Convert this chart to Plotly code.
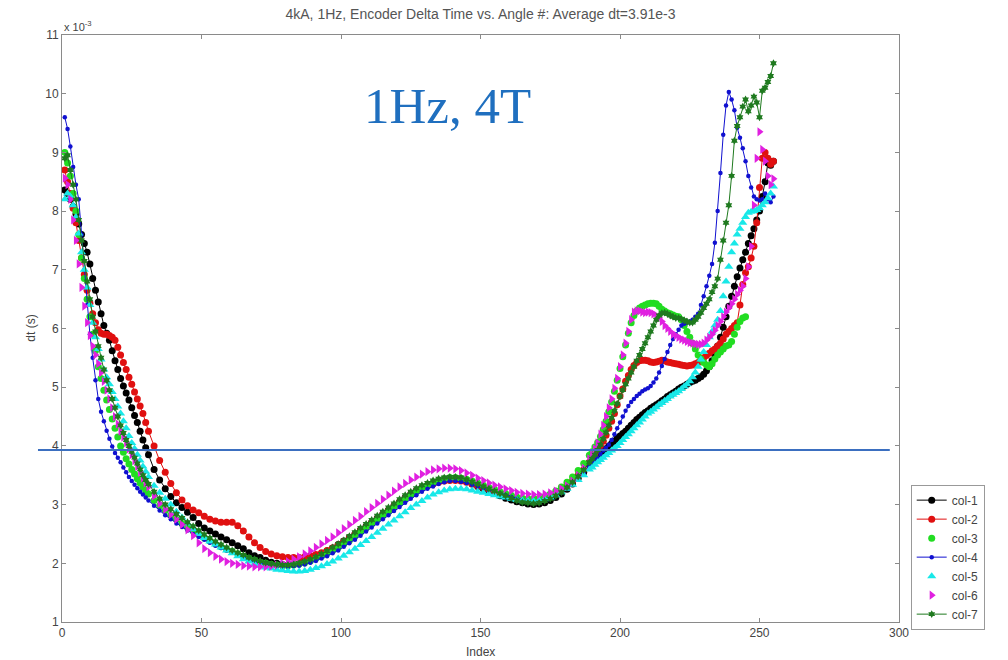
import plotly.graph_objects as go

# x index: 1..30 every point, 31..189 every other point, 190..255 every point
idx_early = list(range(1, 31))
idx_mid = list(range(31, 190, 2))
idx_late = list(range(190, 256))
idx_all = idx_early + idx_mid + idx_late
idx_col3 = idx_early + idx_mid + list(range(190, 246))

col1 = [8.36, 8.3, 8.2, 8.08, 7.95, 7.78, 7.6, 7.45, 7.3, 7.1, 6.85, 6.65, 6.45, 6.25, 6.05, 5.92, 5.8, 5.62, 5.45, 5.3,
        5.15, 5.02, 4.9, 4.78, 4.65, 4.52, 4.4, 4.25, 4.1, 3.97,
        3.85, 3.6, 3.42, 3.27, 3.14, 3.03, 2.95, 2.87, 2.78, 2.68,
        2.6, 2.55, 2.5, 2.45, 2.4, 2.35, 2.3, 2.25, 2.18, 2.13,
        2.1, 2.05, 2.02, 2.0, 1.98, 1.97, 1.98, 2.0, 2.03, 2.07,
        2.11, 2.16, 2.21, 2.26, 2.32, 2.38, 2.44, 2.5, 2.57, 2.63,
        2.7, 2.77, 2.84, 2.91, 2.98, 3.05, 3.12, 3.18, 3.24, 3.29,
        3.33, 3.37, 3.4, 3.42, 3.43, 3.43, 3.42, 3.39, 3.35, 3.31,
        3.27, 3.23, 3.19, 3.15, 3.11, 3.08, 3.05, 3.03, 3.01, 3.0,
        3.01, 3.03, 3.07, 3.12, 3.18, 3.26, 3.35, 3.45, 3.55, 3.66,
        3.7, 3.75, 3.8, 3.85, 3.9, 3.95, 4.0, 4.04, 4.08, 4.13,
        4.17, 4.21, 4.25, 4.3, 4.35, 4.4, 4.45, 4.49, 4.53, 4.57,
        4.6, 4.64, 4.67, 4.7, 4.73, 4.77, 4.8, 4.84, 4.87, 4.9,
        4.93, 4.97, 5.0, 5.02, 5.05, 5.08, 5.1, 5.12, 5.15, 5.18,
        5.22, 5.28, 5.35, 5.45, 5.55, 5.7, 5.85, 6.02, 6.2, 6.38,
        6.55, 6.72, 6.88, 7.03, 7.17, 7.3, 7.45, 7.58, 7.7, 7.85,
        8.0, 8.25, 8.5, 8.82, 8.78, 8.85]

col2 = [8.7, 8.5, 8.3, 8.05, 7.8, 7.5, 7.2, 6.92, 6.65, 6.43, 6.25, 6.1, 5.98, 5.92, 5.9, 5.9, 5.88, 5.85, 5.8, 5.68,
        5.55, 5.42, 5.3, 5.17, 5.05, 4.92, 4.8, 4.68, 4.55, 4.4,
        4.25, 4.0, 3.75, 3.55, 3.36, 3.2, 3.08, 2.98, 2.91, 2.86,
        2.8, 2.75, 2.72, 2.7, 2.7, 2.7, 2.64, 2.55, 2.45, 2.35,
        2.27, 2.2, 2.16, 2.13, 2.11, 2.1, 2.1, 2.1, 2.11, 2.13,
        2.15, 2.18, 2.22, 2.26, 2.31, 2.37, 2.43, 2.49, 2.56, 2.62,
        2.69, 2.76, 2.83, 2.9, 2.97, 3.04, 3.11, 3.17, 3.23, 3.28,
        3.32, 3.35, 3.38, 3.4, 3.41, 3.41, 3.4, 3.38, 3.35, 3.32,
        3.29, 3.26, 3.23, 3.2, 3.17, 3.14, 3.11, 3.09, 3.08, 3.08,
        3.09, 3.11, 3.15, 3.2, 3.26, 3.33, 3.41, 3.5, 3.6, 3.72,
        3.78, 3.85, 3.92, 4.0, 4.08, 4.18, 4.3, 4.42, 4.55, 4.7,
        4.85, 4.97, 5.1, 5.2, 5.3, 5.37, 5.42, 5.45, 5.46, 5.46,
        5.45, 5.43, 5.42, 5.43, 5.44, 5.46, 5.45, 5.43, 5.42, 5.41,
        5.4, 5.39, 5.38, 5.37, 5.36, 5.37, 5.38, 5.4, 5.42, 5.46,
        5.5, 5.54, 5.58, 5.62, 5.65, 5.7, 5.75, 5.82, 5.9, 5.95,
        6.0, 6.05, 6.1, 6.4, 6.75, 6.95, 7.05, 7.2, 7.4, 7.8,
        8.4, 8.9, 9.0, 8.9, 8.8, 8.85]

col3 = [9.0, 8.82, 8.6, 8.3, 8.0, 7.6, 7.2, 6.85, 6.5, 6.2, 5.9, 5.62, 5.35, 5.15, 4.95, 4.78, 4.62, 4.46, 4.3, 4.15,
        4.0, 3.89, 3.78, 3.69, 3.6, 3.52, 3.44, 3.37, 3.3, 3.24,
        3.18, 3.07, 2.98, 2.9, 2.82, 2.75, 2.68, 2.61, 2.55, 2.49,
        2.43, 2.38, 2.33, 2.28, 2.24, 2.2, 2.16, 2.12, 2.08, 2.05,
        2.02, 2.0, 1.98, 1.97, 1.96, 1.96, 1.97, 1.99, 2.01, 2.04,
        2.08, 2.12, 2.17, 2.22, 2.27, 2.33, 2.39, 2.46, 2.53, 2.6,
        2.67, 2.74, 2.81, 2.88, 2.95, 3.02, 3.09, 3.16, 3.22, 3.28,
        3.33, 3.37, 3.41, 3.44, 3.46, 3.46, 3.45, 3.43, 3.4, 3.37,
        3.33, 3.29, 3.26, 3.22, 3.19, 3.16, 3.13, 3.11, 3.1, 3.1,
        3.11, 3.14, 3.18, 3.23, 3.3, 3.38, 3.47, 3.58, 3.7, 3.84,
        3.9, 3.98, 4.06, 4.16, 4.28, 4.42, 4.58, 4.75, 4.93, 5.12,
        5.32, 5.52, 5.72, 5.92, 6.1, 6.22, 6.3, 6.35, 6.38, 6.4,
        6.42, 6.43, 6.43, 6.42, 6.38, 6.33, 6.3, 6.27, 6.25, 6.23,
        6.21, 6.2, 6.15, 6.05, 5.95, 5.85, 5.75, 5.65, 5.55, 5.48,
        5.42, 5.38, 5.35, 5.4, 5.48, 5.55, 5.6, 5.65, 5.7, 5.72,
        5.78, 5.9, 6.02, 6.12, 6.18, 6.2]

col4 = [9.6, 9.4, 9.1, 8.75, 8.45, 8.2, 7.6, 7.0, 6.4, 5.9, 5.5, 5.12, 4.8, 4.58, 4.42, 4.26, 4.12, 3.99, 3.88, 3.8,
        3.72, 3.63, 3.55, 3.47, 3.4, 3.34, 3.28, 3.22, 3.17, 3.12,
        3.07, 2.98, 2.9, 2.82, 2.75, 2.68, 2.62, 2.56, 2.5, 2.45,
        2.4, 2.35, 2.3, 2.26, 2.22, 2.18, 2.14, 2.1, 2.06, 2.03,
        2.0, 1.98, 1.96, 1.95, 1.94, 1.94, 1.95, 1.96, 1.98, 2.01,
        2.04, 2.08, 2.12, 2.17, 2.22, 2.28, 2.34, 2.4, 2.47, 2.54,
        2.61, 2.68, 2.75, 2.82, 2.89, 2.96, 3.03, 3.1, 3.16, 3.22,
        3.27, 3.31, 3.35, 3.38, 3.4, 3.4, 3.39, 3.37, 3.34, 3.31,
        3.28, 3.25, 3.22, 3.19, 3.16, 3.13, 3.1, 3.08, 3.06, 3.06,
        3.07, 3.09, 3.12, 3.16, 3.21, 3.27, 3.35, 3.44, 3.54, 3.65,
        3.7, 3.75, 3.8, 3.86, 3.92, 3.97, 4.02, 4.1, 4.2, 4.3,
        4.4, 4.5, 4.6, 4.68, 4.75, 4.8, 4.85, 4.89, 4.93, 4.96,
        4.98, 5.02, 5.08, 5.15, 5.25, 5.36, 5.48, 5.6, 5.72, 5.82,
        5.9, 5.98, 6.05, 6.08, 6.1, 6.12, 6.15, 6.2, 6.25, 6.4,
        6.55, 6.72, 6.9, 7.1, 7.46, 8.0, 8.65, 9.3, 9.8, 10.03,
        9.9, 9.72, 9.42, 9.25, 9.07, 8.85, 8.6, 8.4, 8.25, 8.2,
        8.18, 8.2, 8.3, 8.2, 8.15, 8.25]

col5 = [8.2, 8.3, 8.25, 8.1, 7.9, 7.62, 7.3, 7.0, 6.7, 6.4, 6.1, 5.85, 5.65, 5.47, 5.3, 5.17, 5.05, 4.92, 4.8, 4.67,
        4.55, 4.42, 4.3, 4.17, 4.05, 3.95, 3.85, 3.75, 3.65, 3.56,
        3.47, 3.32, 3.2, 3.1, 3.0, 2.88, 2.78, 2.68, 2.58, 2.5,
        2.43, 2.37, 2.32, 2.27, 2.22, 2.17, 2.12, 2.07, 2.03, 1.99,
        1.96, 1.93, 1.91, 1.89, 1.88, 1.87, 1.86, 1.86, 1.87, 1.89,
        1.92, 1.95, 1.99, 2.03, 2.08, 2.13, 2.19, 2.25, 2.31, 2.38,
        2.45, 2.52, 2.59, 2.66, 2.73, 2.8, 2.87, 2.94, 3.0, 3.06,
        3.12, 3.17, 3.21, 3.24, 3.26, 3.27, 3.27, 3.26, 3.24, 3.22,
        3.2, 3.18, 3.16, 3.14, 3.12, 3.1, 3.08, 3.07, 3.06, 3.06,
        3.07, 3.09, 3.12, 3.16, 3.21, 3.27, 3.34, 3.42, 3.5, 3.6,
        3.63, 3.68, 3.72, 3.76, 3.8, 3.84, 3.88, 3.92, 3.96, 4.0,
        4.05, 4.1, 4.15, 4.2, 4.25, 4.3, 4.35, 4.4, 4.45, 4.5,
        4.55, 4.58, 4.62, 4.66, 4.7, 4.73, 4.77, 4.8, 4.84, 4.87,
        4.9, 4.93, 4.97, 5.01, 5.05, 5.1, 5.17, 5.25, 5.35, 5.47,
        5.6, 5.72, 5.85, 5.95, 6.05, 6.15, 6.3, 6.55, 6.8, 7.05,
        7.3, 7.45, 7.6, 7.7, 7.8, 7.9, 7.97, 7.99, 8.0, 8.02,
        8.05, 8.1, 8.15, 8.22, 8.3, 8.42]

col6 = [8.56, 8.45, 8.2, 7.85, 7.5, 7.1, 6.7, 6.38, 6.1, 5.88, 5.7, 5.55, 5.4, 5.25, 5.1, 4.95, 4.8, 4.65, 4.5, 4.37,
        4.25, 4.15, 4.05, 3.95, 3.85, 3.75, 3.65, 3.55, 3.45, 3.37,
        3.3, 3.15, 3.02, 2.92, 2.83, 2.75, 2.66, 2.57, 2.47, 2.35,
        2.25, 2.18, 2.12, 2.07, 2.03, 2.0, 1.98, 1.96, 1.95, 1.94,
        1.94, 1.94, 1.95, 1.97, 2.0, 2.03, 2.07, 2.11, 2.16, 2.21,
        2.27, 2.33, 2.39, 2.45, 2.52, 2.59, 2.66, 2.73, 2.8, 2.88,
        2.95, 3.02, 3.09, 3.16, 3.23, 3.3, 3.36, 3.42, 3.47, 3.52,
        3.56, 3.59, 3.61, 3.62, 3.62, 3.61, 3.58, 3.54, 3.5, 3.45,
        3.41, 3.37, 3.33, 3.3, 3.27, 3.24, 3.21, 3.19, 3.18, 3.17,
        3.17, 3.18, 3.2, 3.23, 3.27, 3.32, 3.4, 3.5, 3.62, 3.78,
        3.85, 3.95, 4.05, 4.2, 4.35, 4.5, 4.65, 4.8, 4.98, 5.15,
        5.35, 5.55, 5.75, 5.95, 6.15, 6.28, 6.3, 6.3, 6.28, 6.27,
        6.28, 6.27, 6.25, 6.22, 6.18, 6.12, 6.05, 6.0, 5.95, 5.9,
        5.88, 5.85, 5.82, 5.8, 5.78, 5.76, 5.75, 5.74, 5.73, 5.73,
        5.75, 5.8, 5.85, 5.9, 5.97, 6.05, 6.12, 6.2, 6.28, 6.35,
        6.42, 6.5, 6.58, 6.65, 6.72, 6.85, 7.05, 7.4, 8.1, 8.9,
        9.35, 9.05, 8.85, 8.6, 8.45, 8.55]

col7 = [8.9, 8.95, 8.7, 8.45, 8.2, 7.85, 7.5, 7.15, 6.8, 6.5, 6.2, 5.95, 5.7, 5.5, 5.3, 5.12, 4.95, 4.8, 4.65, 4.5,
        4.35, 4.22, 4.1, 4.0, 3.9, 3.8, 3.7, 3.6, 3.5, 3.42,
        3.35, 3.22, 3.1, 3.0, 2.92, 2.84, 2.77, 2.7, 2.63, 2.56,
        2.49, 2.43, 2.37, 2.32, 2.27, 2.22, 2.18, 2.14, 2.1, 2.07,
        2.04, 2.01, 1.99, 1.98, 1.97, 1.97, 1.98, 2.0, 2.03, 2.07,
        2.11, 2.16, 2.21, 2.27, 2.33, 2.39, 2.46, 2.53, 2.6, 2.67,
        2.74, 2.81, 2.88, 2.95, 3.02, 3.09, 3.16, 3.22, 3.28, 3.33,
        3.37, 3.41, 3.44, 3.46, 3.47, 3.47, 3.46, 3.43, 3.39, 3.35,
        3.31, 3.27, 3.23, 3.19, 3.15, 3.11, 3.07, 3.04, 3.03, 3.02,
        3.03, 3.06, 3.1, 3.15, 3.21, 3.29, 3.38, 3.48, 3.59, 3.72,
        3.78, 3.85, 3.93, 4.02, 4.12, 4.23, 4.35, 4.48, 4.6, 4.72,
        4.84, 4.95, 5.05, 5.15, 5.25, 5.35, 5.45, 5.55, 5.65, 5.75,
        5.85, 5.95, 6.05, 6.15, 6.22, 6.26, 6.27, 6.25, 6.22, 6.2,
        6.18, 6.18, 6.16, 6.14, 6.12, 6.1, 6.1, 6.15, 6.2, 6.27,
        6.35, 6.42, 6.5, 6.62, 6.72, 6.85, 7.17, 7.5, 7.8, 8.1,
        8.6, 9.2, 9.45, 9.6, 9.78, 9.9, 9.7, 9.8, 9.95, 9.85,
        9.6, 10.05, 10.1, 10.2, 10.3, 10.52]

series_names = ["col-1", "col-2", "col-3", "col-4", "col-5", "col-6", "col-7"]
avg_dt = 3.93  # drawn average line (x 1e-3 s)

x_ticks = [0, 50, 100, 150, 200, 250, 300]
y_ticks = [1, 2, 3, 4, 5, 6, 7, 8, 9, 10, 11]

styles = [
    dict(color="#000000", symbol="circle", size=7, mode="lines+markers", lw=1),
    dict(color="#e01010", symbol="circle", size=7, mode="lines+markers", lw=1),
    dict(color="#22dd22", symbol="circle", size=7, mode="markers", lw=1),
    dict(color="#1010d0", symbol="circle", size=4.5, mode="lines+markers", lw=1),
    dict(color="#18e8e8", symbol="triangle-up", size=8, mode="markers", lw=1),
    dict(color="#e020e0", symbol="triangle-right", size=8, mode="markers", lw=1),
    dict(color="#1f7a1f", symbol="hexagram", size=6, mode="lines+markers", lw=1),
]

data = [(idx_all, col1), (idx_all, col2), (idx_col3, col3), (idx_all, col4),
        (idx_all, col5), (idx_all, col6), (idx_all, col7)]

fig = go.Figure()
for name, (xs, ys), st in zip(series_names, data, styles):
    fig.add_trace(go.Scatter(
        x=xs, y=ys, name=name, mode=st["mode"],
        line=dict(color=st["color"], width=st["lw"]),
        marker=dict(color=st["color"], symbol=st["symbol"], size=st["size"], line=dict(width=0)),
    ))

font_main = "Liberation Sans, Arial, sans-serif"
axis_common = dict(
    showgrid=False, zeroline=False, showline=True, linecolor="#8a8a8a", linewidth=1,
    mirror="ticks", ticks="inside", ticklen=4, tickcolor="#8a8a8a",
    tickfont=dict(family=font_main, size=12, color="#444444"),
)

fig.update_layout(
    width=1008, height=660,
    margin=dict(l=62, r=109, t=35, b=38),
    paper_bgcolor="white", plot_bgcolor="white",
    title=dict(text="4kA, 1Hz, Encoder Delta Time vs. Angle #: Average dt=3.91e-3",
               x=0.5, xref="paper", xanchor="center", y=0.979, yanchor="middle",
               font=dict(family=font_main, size=14, color="#555555")),
    xaxis=dict(range=[0, 300], tickvals=x_ticks, **axis_common),
    yaxis=dict(range=[1, 11], tickvals=y_ticks, **axis_common),
    legend=dict(x=1.014, xanchor="left", y=-0.013, yanchor="bottom",
                bordercolor="#999999", borderwidth=1, bgcolor="white",
                font=dict(family=font_main, size=12, color="#444444"),
                tracegroupgap=0, itemwidth=30),
    showlegend=True,
)

fig.add_shape(type="line", xref="paper", yref="y", x0=-0.0287, x1=0.989, y0=avg_dt, y1=avg_dt,
              line=dict(color="#3b6fc0", width=2))

fig.add_annotation(text="1Hz, 4T", xref="paper", yref="paper", x=0.46, y=0.93,
                   xanchor="center", yanchor="top",
                   showarrow=False, font=dict(family="Liberation Serif, serif", size=51, color="#1f6fbf"))
fig.add_annotation(text="x 10<sup>-3</sup>", xref="paper", yref="paper", x=0.0, y=1.0,
                   xanchor="left", yanchor="bottom", showarrow=False,
                   font=dict(family=font_main, size=11, color="#444444"))
fig.add_annotation(text="dt (s)", xref="paper", yref="paper", x=-0.038, y=0.5, textangle=-90,
                   xanchor="center", yanchor="middle",
                   showarrow=False, font=dict(family=font_main, size=12, color="#444444"))
fig.add_annotation(text="Index", xref="paper", yref="paper", x=0.5, y=-0.051,
                   xanchor="center", yanchor="middle",
                   showarrow=False, font=dict(family=font_main, size=12, color="#444444"))

fig.write_html("out.html")
